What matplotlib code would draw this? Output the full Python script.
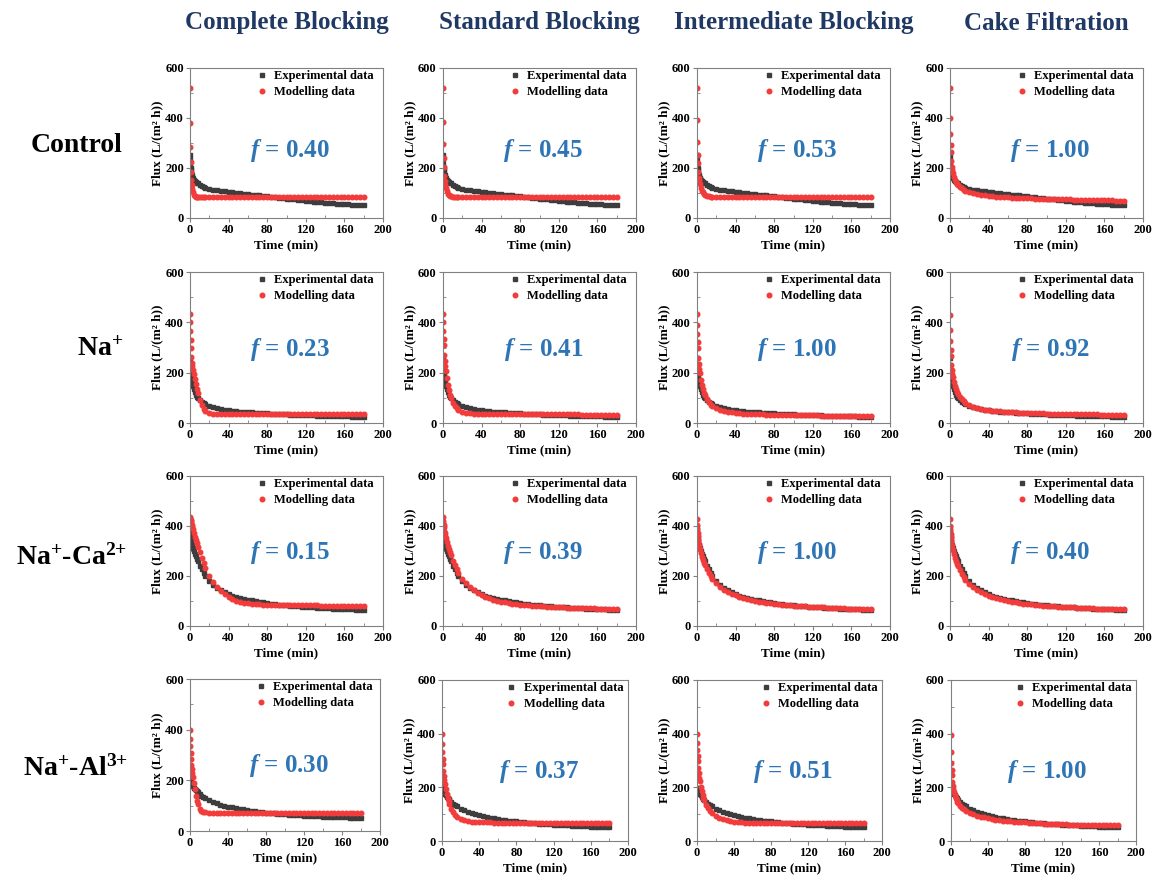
import matplotlib
matplotlib.use("Agg")
import matplotlib.pyplot as plt
from matplotlib.ticker import MultipleLocator

# ---- data ----
time_min = [0, 0.25, 0.5, 0.75, 1, 1.5, 2, 2.5, 3, 4, 5, 6, 7, 8, 10, 12, 14,
            16, 20, 24, 28, 32, 36, 40, 44, 48, 52, 56, 60, 64, 68, 72, 76, 80, 84, 88, 92,
            96, 100, 104, 108, 112, 116, 120, 124, 128, 132, 136, 140, 144, 148, 152, 156,
            160, 164, 168, 172, 176, 180]

models = ["Complete Blocking", "Standard Blocking", "Intermediate Blocking", "Cake Filtration"]
conditions = ["Control", "Na$^{+}$", "Na$^{+}$-Ca$^{2{+}}$", "Na$^{+}$-Al$^{3{+}}$"]

f_values = [[0.40, 0.45, 0.53, 1.00],
            [0.23, 0.41, 1.00, 0.92],
            [0.15, 0.39, 1.00, 0.40],
            [0.30, 0.37, 0.51, 1.00]]

# experimental flux, one per condition
exp_control = [250, 235, 215, 200, 190, 178, 170, 165, 160, 153, 148, 144, 141, 138, 133, 128, 124,
               121, 116, 113, 110, 108, 106, 104, 102, 100, 98, 96, 95, 93, 92, 90, 89, 87, 85, 83, 81,
               79, 77, 76, 74, 72, 71, 69, 68, 66, 65, 63, 62, 61, 59, 58, 57, 56, 55, 54, 53, 52, 51]
exp_na = [260, 232, 212, 197, 186, 174, 164, 155, 148, 135, 123, 113, 105, 99, 90, 83, 78,
          74, 68, 63, 59, 56, 53, 51, 49, 47, 45, 44, 43, 42, 41, 40, 39, 38, 37, 36, 35,
          35, 34, 33, 33, 32, 32, 31, 30, 30, 29, 29, 28, 28, 27, 27, 27, 26, 26, 25, 25, 25, 24]
exp_ca = [395, 380, 368, 356, 346, 335, 326, 318, 312, 300, 290, 280, 270, 260, 242, 227, 213,
          201, 182, 166, 153, 143, 135, 128, 122, 117, 113, 109, 106, 103, 100, 97, 95, 92, 90, 88, 86,
          84, 83, 81, 80, 79, 78, 77, 76, 75, 74, 73, 72, 71, 70, 70, 69, 68, 67, 67, 66, 65, 65]
exp_al = [198, 196, 194, 192, 190, 186, 182, 179, 176, 170, 165, 160, 156, 152, 145, 139, 134,
          129, 121, 115, 109, 104, 100, 96, 93, 90, 87, 85, 82, 80, 78, 76, 75, 73, 71, 70, 68,
          67, 66, 65, 64, 63, 62, 61, 60, 59, 59, 58, 57, 57, 56, 55, 55, 54, 54, 53, 53, 52, 52]

# modelled flux (complete, standard, intermediate, cake) per condition
mod_control = [
    [520, 380, 285, 225, 185, 150, 130, 115, 105, 93, 87, 84, 83, 82, 82, 82, 82,
     82, 82, 82, 82, 82, 82, 82, 82, 82, 82, 82, 82, 82, 82, 82, 82, 82, 82, 82, 82,
     82, 82, 82, 82, 82, 82, 82, 82, 82, 82, 82, 82, 82, 82, 82, 82, 82, 82, 82, 82, 82, 82],
    [520, 385, 295, 240, 205, 168, 147, 132, 121, 106, 97, 92, 89, 87, 85, 84, 84,
     83, 83, 83, 83, 83, 83, 83, 83, 83, 83, 83, 83, 83, 83, 83, 83, 83, 83, 83, 83,
     83, 83, 83, 83, 83, 83, 83, 83, 83, 83, 83, 83, 83, 83, 83, 83, 83, 83, 83, 83, 83, 83],
    [520, 390, 305, 252, 218, 182, 161, 146, 135, 119, 109, 102, 97, 93, 89, 87, 85,
     84, 83, 83, 83, 83, 83, 83, 83, 83, 83, 83, 83, 83, 83, 83, 83, 83, 83, 83, 83,
     83, 83, 83, 83, 83, 83, 83, 83, 83, 83, 83, 83, 83, 83, 83, 83, 83, 83, 83, 83, 83, 83],
    [520, 400, 335, 292, 262, 226, 205, 190, 178, 162, 151, 143, 137, 132, 124, 118, 113,
     109, 103, 98, 95, 92, 90, 88, 86, 85, 84, 83, 82, 81, 80, 80, 79, 78, 78, 77, 77,
     76, 76, 75, 75, 75, 74, 74, 74, 73, 73, 73, 72, 72, 72, 72, 71, 71, 71, 71, 70, 70, 70],
]
mod_na = [
    [435, 400, 365, 330, 300, 262, 240, 225, 212, 195, 175, 155, 135, 118, 90, 70, 57,
     48, 40, 37, 36, 36, 36, 36, 36, 36, 36, 36, 36, 36, 36, 36, 36, 36, 36, 36, 36,
     36, 36, 36, 36, 36, 36, 36, 36, 36, 36, 36, 36, 36, 36, 36, 36, 36, 36, 36, 36, 36, 36],
    [435, 400, 365, 335, 310, 270, 245, 225, 207, 178, 152, 130, 112, 98, 79, 67, 58,
     52, 45, 41, 38, 37, 36, 35, 35, 35, 35, 35, 35, 35, 35, 35, 35, 35, 35, 35, 35,
     35, 35, 34, 34, 34, 34, 34, 34, 34, 34, 34, 34, 33, 33, 33, 33, 33, 33, 33, 33, 33, 33],
    [435, 390, 352, 322, 297, 258, 233, 213, 197, 170, 150, 134, 121, 110, 94, 82, 73,
     67, 58, 52, 48, 45, 42, 40, 39, 37, 36, 35, 35, 34, 34, 33, 33, 32, 32, 32, 31,
     31, 31, 31, 30, 30, 30, 30, 30, 29, 29, 29, 29, 29, 29, 28, 28, 28, 28, 28, 28, 28, 28],
    [430, 370, 325, 292, 268, 232, 210, 194, 181, 161, 146, 134, 124, 116, 104, 94, 86,
     80, 71, 65, 60, 56, 53, 51, 49, 47, 46, 45, 44, 43, 42, 41, 41, 40, 39, 39, 38,
     38, 37, 37, 37, 36, 36, 36, 35, 35, 35, 35, 34, 34, 34, 34, 33, 33, 33, 33, 33, 32, 32],
]
mod_ca = [
    [435, 431, 427, 423, 419, 411, 403, 395, 387, 372, 358, 344, 331, 318, 295, 273, 253,
     234, 200, 176, 157, 141, 127, 116, 108, 102, 97, 94, 91, 89, 88, 87, 86, 85, 84, 84, 84,
     84, 84, 84, 83, 83, 83, 83, 83, 83, 83, 82, 82, 82, 82, 82, 82, 82, 82, 82, 82, 82, 82],
    [435, 422, 412, 403, 395, 382, 371, 361, 352, 336, 321, 308, 295, 283, 262, 244, 228,
     214, 190, 171, 156, 143, 133, 124, 117, 111, 106, 102, 98, 95, 92, 90, 88, 86, 85, 83, 82,
     81, 80, 79, 78, 77, 76, 76, 75, 74, 74, 73, 73, 72, 72, 71, 71, 70, 70, 70, 69, 69, 69],
    [430, 405, 388, 374, 362, 344, 330, 318, 308, 291, 277, 265, 254, 244, 227, 213, 200,
     189, 171, 157, 146, 137, 129, 123, 117, 112, 108, 104, 101, 98, 95, 93, 91, 89, 87, 86, 84,
     83, 82, 81, 80, 79, 78, 77, 76, 75, 75, 74, 73, 72, 72, 71, 70, 70, 69, 69, 68, 68, 67],
    [430, 402, 384, 370, 358, 340, 326, 314, 304, 287, 273, 261, 250, 240, 223, 209, 197,
     186, 168, 155, 144, 135, 128, 122, 116, 111, 107, 103, 100, 97, 95, 92, 90, 88, 87, 85, 84,
     82, 81, 80, 79, 78, 77, 76, 75, 75, 74, 73, 72, 72, 71, 70, 70, 69, 69, 68, 68, 67, 67],
]
mod_al = [
    [400, 365, 335, 308, 285, 262, 245, 230, 215, 190, 165, 140, 120, 105, 88, 80, 76,
     74, 73, 72, 72, 72, 72, 72, 72, 72, 72, 72, 72, 72, 72, 72, 72, 72, 72, 72, 72,
     72, 72, 72, 72, 72, 72, 72, 72, 72, 72, 72, 72, 72, 72, 72, 72, 72, 72, 72, 72, 72, 72],
    [400, 362, 332, 307, 287, 262, 243, 227, 213, 192, 175, 160, 148, 137, 120, 107, 98,
     91, 82, 77, 74, 72, 71, 70, 70, 69, 69, 68, 68, 68, 68, 68, 68, 68, 68, 68, 68,
     68, 68, 68, 68, 68, 68, 68, 68, 68, 68, 68, 68, 68, 68, 68, 68, 68, 68, 68, 68, 68, 68],
    [400, 365, 338, 316, 298, 272, 252, 236, 223, 202, 186, 172, 161, 151, 135, 123, 113,
     105, 94, 86, 81, 77, 74, 72, 70, 69, 68, 68, 67, 67, 67, 66, 66, 66, 66, 66, 66,
     66, 66, 66, 66, 66, 66, 66, 66, 66, 66, 66, 66, 66, 66, 66, 66, 66, 66, 66, 66, 66, 66],
    [395, 330, 290, 265, 245, 220, 205, 193, 183, 170, 160, 152, 146, 140, 131, 124, 118,
     113, 106, 100, 95, 91, 88, 85, 83, 80, 78, 76, 75, 74, 72, 71, 70, 69, 68, 67, 67,
     66, 65, 65, 64, 63, 63, 62, 62, 61, 61, 60, 60, 60, 59, 59, 59, 59, 58, 58, 58, 58, 58],
]

exp_rows = [exp_control, exp_na, exp_ca, exp_al]
mod_rows = [mod_control, mod_na, mod_ca, mod_al]

# ---- style ----
plt.rcParams['font.family'] = ['Liberation Serif', 'DejaVu Serif']
plt.rcParams['font.weight'] = 'bold'
plt.rcParams['mathtext.fontset'] = 'custom'
plt.rcParams['mathtext.rm'] = 'Liberation Serif:bold'
plt.rcParams['mathtext.it'] = 'Liberation Serif:italic:bold'
plt.rcParams['mathtext.bf'] = 'Liberation Serif:bold'

W, H = 1157, 877
fig = plt.figure(figsize=(W / 100, H / 100), dpi=100)

# panel boxes in pixels: left, top, right, bottom
col_left = [190, 443, 697, 950]
boxes = [[(l, 68, l + 193, 218) for l in col_left],
         [(l, 272, l + 193, 423) for l in col_left],
         [(l, 476, l + 193, 626) for l in col_left],
         [(190, 679, 380, 831), (442, 680, 628, 841), (697, 680, 882, 841), (951, 680, 1136, 841)]]
f_y = [0.45, 0.49, 0.49, 0.43]

grey = '#3d3d3d'
red = '#f23b3b'
blue = '#2e75b6'
navy = '#1f3864'

for r in range(4):
    for c in range(4):
        l, t, rr, b = boxes[r][c]
        ax = fig.add_axes([l / W, 1 - b / H, (rr - l) / W, (b - t) / H])
        ax.plot(time_min, exp_rows[r], ls='none', marker='s', ms=3.0, color=grey,
                mec=grey, label='Experimental data')
        ax.plot(time_min, mod_rows[r][c], ls='none', marker='o', ms=3.3, color=red,
                mec=red, label='Modelling data')
        ax.set_xlim(0, 200)
        ax.set_ylim(0, 600)
        ax.xaxis.set_major_locator(MultipleLocator(40))
        ax.xaxis.set_minor_locator(MultipleLocator(20))
        ax.yaxis.set_major_locator(MultipleLocator(200))
        ax.yaxis.set_minor_locator(MultipleLocator(100))
        ax.tick_params(which='major', direction='out', length=3, width=0.8, color='#808080',
                       labelsize=9, pad=1.5)
        ax.tick_params(which='minor', direction='in', length=2, width=0.6, color='#808080')
        for s in ax.spines.values():
            s.set_color('#808080')
            s.set_linewidth(0.8)
        for lab in ax.get_xticklabels() + ax.get_yticklabels():
            lab.set_fontweight('bold')
        ax.set_xlabel('Time (min)', fontsize=9.5, fontweight='bold', labelpad=2)
        ax.set_ylabel('Flux (L/(m² h))', fontsize=9.5, fontweight='bold', labelpad=1)
        ax.legend(loc='upper left', bbox_to_anchor=(0.345, 0.985), frameon=False,
                  borderpad=0, borderaxespad=0, handlelength=0.8, handletextpad=0.6,
                  labelspacing=0.3, prop={'size': 9, 'weight': 'bold'})
        ax.text(0.52, f_y[r], '$f$ = %.2f' % f_values[r][c], transform=ax.transAxes,
                ha='center', va='center', fontsize=18, fontweight='bold', color=blue)

for c, name in enumerate(models):
    l, t, rr, b = boxes[0][c]
    fig.text((l + rr) / 2 / W, 1 - 23 / H, name, ha='center', va='center',
             fontsize=18, fontweight='bold', color=navy)

label_pos = [(77, 145), (100, 349), (72, 557), (75, 768)]
for (x, y), name in zip(label_pos, conditions):
    fig.text(x / W, 1 - y / H, name, ha='center', va='center', fontsize=20,
             fontweight='bold', color='black')

fig.savefig('out.png', dpi=100)
